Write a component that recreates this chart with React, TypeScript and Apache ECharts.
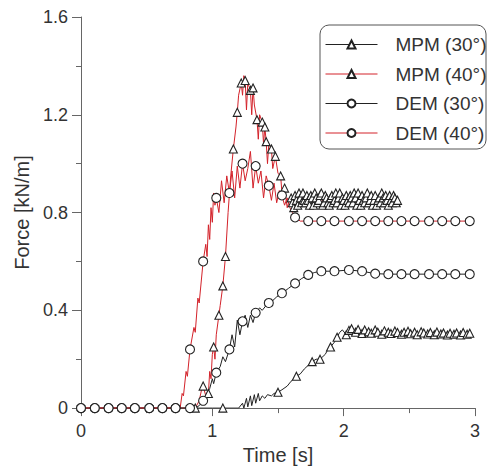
import React, { useEffect, useRef } from "react";
import * as echarts from "echarts";

// ---------- data (time [s], force [kN/m]) ----------
const legendNames = ["MPM (30°)", "MPM (40°)", "DEM (30°)", "DEM (40°)"];

// MPM (30°): line points (no marker) and marker points
const mpm30Line: [number, number][] = [
  [0, 0], [0.5, 0], [1.0, 0], [1.2, 0], [1.23, 0.02], [1.24, 0], [1.26, 0.04], [1.27, 0.005],
  [1.29, 0.05], [1.30, 0.01], [1.32, 0.055], [1.33, 0.02], [1.35, 0.06], [1.36, 0.03], [1.38, 0.05],
  [1.40, 0.04], [1.42, 0.055], [1.45, 0.05], [1.47, 0.06], [1.53, 0.075], [1.57, 0.09], [1.60, 0.11],
  [1.67, 0.14], [1.70, 0.16], [1.73, 0.175], [1.79, 0.2], [1.86, 0.22], [1.88, 0.24], [1.93, 0.27],
  [1.97, 0.31], [1.99, 0.32],
];
const mpm30Marks: [number, number][] = [
  [1.08, 0], [1.5, 0.065], [1.64, 0.13], [1.76, 0.19], [1.82, 0.2], [1.9, 0.25], [1.95, 0.29], [2.02, 0.3],
  [2.04, 0.318], [2.06, 0.325], [2.09, 0.31], [2.11, 0.322], [2.14, 0.305], [2.16, 0.32], [2.19, 0.312],
  [2.21, 0.306], [2.24, 0.32], [2.26, 0.31], [2.29, 0.302], [2.31, 0.316], [2.34, 0.31], [2.36, 0.305],
  [2.39, 0.315], [2.41, 0.309], [2.44, 0.302], [2.46, 0.31], [2.49, 0.314], [2.51, 0.304], [2.54, 0.31],
  [2.56, 0.3], [2.59, 0.312], [2.61, 0.307], [2.64, 0.303], [2.66, 0.309], [2.69, 0.3], [2.71, 0.311],
  [2.74, 0.303], [2.76, 0.307], [2.79, 0.299], [2.81, 0.306], [2.84, 0.302], [2.86, 0.307], [2.89, 0.299],
  [2.91, 0.309], [2.94, 0.302], [2.96, 0.306],
];

// MPM (40°)
const mpm40Line: [number, number][] = [
  [0, 0], [0.5, 0], [0.86, 0], [0.9, 0.03], [0.92, 0.08], [0.95, 0.05], [0.98, 0.15], [0.99, 0.12],
  [1.0, 0.22], [1.02, 0.2], [1.03, 0.3], [1.06, 0.42], [1.12, 0.8], [1.14, 0.95], [1.18, 1.15],
  [1.2, 1.28], [1.23, 1.28], [1.24, 1.36], [1.26, 1.22], [1.27, 1.33], [1.3, 1.2], [1.32, 1.24],
  [1.35, 1.1], [1.36, 1.2], [1.39, 1.08], [1.42, 1.0], [1.43, 1.08], [1.46, 0.98], [1.5, 0.96],
  [1.53, 0.88], [1.57, 0.82], [1.59, 0.86],
];
const mpm40Marks: [number, number][] = [
  [0.87, 0], [0.93, 0.09], [0.97, 0.06], [1.01, 0.25], [1.05, 0.38], [1.08, 0.5], [1.1, 0.62],
  [1.16, 1.06], [1.19, 1.21], [1.22, 1.33], [1.25, 1.34], [1.29, 1.3], [1.31, 1.31], [1.34, 1.18],
  [1.38, 1.17], [1.4, 1.15], [1.41, 1.09], [1.45, 1.06], [1.48, 1.03], [1.52, 0.95], [1.55, 0.9],
  [1.6, 0.86], [1.61, 0.84], [1.62, 0.82], [1.63, 0.87], [1.64, 0.85], [1.65, 0.83], [1.66, 0.88],
  [1.67, 0.86], [1.68, 0.84], [1.69, 0.88], [1.7, 0.85], [1.71, 0.84], [1.72, 0.87], [1.73, 0.85],
  [1.74, 0.83], [1.75, 0.87], [1.76, 0.86], [1.77, 0.83], [1.78, 0.88], [1.79, 0.86], [1.8, 0.84],
  [1.81, 0.85], [1.82, 0.87], [1.83, 0.88], [1.84, 0.83], [1.85, 0.84], [1.86, 0.87], [1.87, 0.86],
  [1.88, 0.84], [1.89, 0.83], [1.9, 0.86], [1.91, 0.87], [1.92, 0.84], [1.93, 0.85], [1.94, 0.88],
  [1.95, 0.84], [1.96, 0.86], [1.97, 0.88], [1.98, 0.83], [1.99, 0.86], [2.0, 0.85], [2.01, 0.83],
  [2.02, 0.87], [2.03, 0.85], [2.04, 0.84], [2.05, 0.87], [2.06, 0.86], [2.07, 0.84], [2.08, 0.88],
  [2.09, 0.86], [2.1, 0.83], [2.11, 0.88], [2.12, 0.85], [2.13, 0.83], [2.14, 0.87], [2.15, 0.85],
  [2.16, 0.84], [2.17, 0.86], [2.18, 0.88], [2.19, 0.84], [2.2, 0.85], [2.21, 0.87], [2.22, 0.83],
  [2.23, 0.85], [2.24, 0.87], [2.25, 0.83], [2.26, 0.85], [2.27, 0.86], [2.28, 0.84], [2.29, 0.88],
  [2.3, 0.86], [2.31, 0.84], [2.32, 0.87], [2.33, 0.85], [2.34, 0.83], [2.35, 0.87], [2.36, 0.85],
  [2.37, 0.84], [2.38, 0.87], [2.39, 0.86], [2.4, 0.84], [2.41, 0.85],
];

// DEM (30°)
const dem30Line: [number, number][] = [
  [0.87, 0], [0.9, 0.01], [0.96, 0.06], [0.98, 0.08], [1.0, 0.12], [1.01, 0.1], [1.06, 0.17],
  [1.08, 0.21], [1.1, 0.19], [1.15, 0.3], [1.17, 0.25], [1.19, 0.36], [1.21, 0.3], [1.25, 0.38],
  [1.27, 0.33], [1.29, 0.38], [1.31, 0.35], [1.36, 0.41], [1.38, 0.4], [1.41, 0.42], [1.46, 0.44],
  [1.49, 0.455], [1.58, 0.49], [1.68, 0.53], [1.78, 0.555],
];
const dem30Marks: [number, number][] = [
  [0, 0], [0.105, 0], [0.21, 0], [0.31, 0], [0.41, 0], [0.52, 0], [0.62, 0], [0.72, 0], [0.83, 0],
  [0.93, 0.03], [1.03, 0.145], [1.13, 0.24], [1.23, 0.355], [1.33, 0.39], [1.43, 0.43], [1.53, 0.47],
  [1.63, 0.51], [1.73, 0.545], [1.83, 0.56], [1.93, 0.56], [2.04, 0.565], [2.14, 0.56], [2.24, 0.55],
  [2.34, 0.548], [2.44, 0.548], [2.54, 0.548], [2.65, 0.548], [2.75, 0.548], [2.85, 0.548], [2.96, 0.548],
];

// DEM (40°)
const dem40Line: [number, number][] = [
  [0.755, 0], [0.77, 0.06], [0.78, 0.05], [0.8, 0.15], [0.81, 0.13], [0.86, 0.33], [0.87, 0.31],
  [0.89, 0.45], [0.9, 0.43], [0.95, 0.67], [0.96, 0.62], [0.97, 0.75], [0.98, 0.69], [0.99, 0.82],
  [1.0, 0.76], [1.01, 0.88], [1.02, 0.83], [1.05, 0.8], [1.07, 0.93], [1.09, 0.84], [1.11, 0.95],
  [1.15, 0.97], [1.17, 0.86], [1.19, 0.99], [1.21, 0.9], [1.25, 0.93], [1.27, 0.98], [1.29, 1.05],
  [1.31, 0.9], [1.35, 0.92], [1.37, 0.97], [1.39, 0.86], [1.41, 0.95], [1.45, 0.85], [1.47, 0.92],
  [1.49, 0.84], [1.51, 0.89], [1.55, 0.83], [1.57, 0.86], [1.59, 0.82], [1.61, 0.8], [1.67, 0.765],
];
const dem40Marks: [number, number][] = [
  [0, 0], [0.105, 0], [0.21, 0], [0.31, 0], [0.41, 0], [0.52, 0], [0.62, 0], [0.72, 0], [0.83, 0.24],
  [0.93, 0.6], [1.03, 0.86], [1.13, 0.88], [1.23, 1.0], [1.33, 0.99], [1.43, 0.91], [1.53, 0.87],
  [1.63, 0.78], [1.73, 0.765], [1.83, 0.765], [1.93, 0.765], [2.04, 0.765], [2.14, 0.765], [2.24, 0.765],
  [2.34, 0.765], [2.44, 0.765], [2.54, 0.765], [2.65, 0.765], [2.75, 0.765], [2.85, 0.765], [2.96, 0.765],
];

const FONT = "Liberation Sans";
const BLACK = "#222";
const RED = "#d3222a";

function buildData(line: [number, number][], marks: [number, number][]) {
  const pts: any[] = [
    ...line.map((p) => ({ value: p, symbol: "none" })),
    ...marks.map((p) => ({ value: p })),
  ];
  pts.sort((a, b) => a.value[0] - b.value[0]);
  return pts;
}

function makeSeries(name: string, line: [number, number][], marks: [number, number][], color: string, symbol: string, size: number) {
  return {
    name,
    type: "line",
    data: buildData(line, marks),
    symbol,
    symbolSize: size,
    showAllSymbol: true,
    lineStyle: { color, width: 1 },
    itemStyle: { color: "#fff", borderColor: BLACK, borderWidth: 1.1 },
    emphasis: { disabled: true },
  };
}

export default function App() {
  const ref = useRef<HTMLDivElement>(null);
  useEffect(() => {
    if (!ref.current) return;
    const chart = echarts.init(ref.current, null, { renderer: "svg" });
    chart.setOption({
      animation: false,
      backgroundColor: "#fff",
      grid: { left: 81, top: 17, right: 14, bottom: 61, containLabel: false },
      xAxis: {
        type: "value",
        min: 0,
        max: 3,
        interval: 1,
        name: "Time [s]",
        nameLocation: "middle",
        nameGap: 36,
        nameTextStyle: { fontFamily: FONT, fontSize: 20, color: "#333" },
        axisLine: { show: true, onZero: false, lineStyle: { color: "#666", width: 1 } },
        axisTick: { show: true, length: 8, lineStyle: { color: "#666" } },
        minorTick: { show: true, splitNumber: 2, length: 5, lineStyle: { color: "#666" } },
        splitLine: { show: false },
        axisLabel: { fontFamily: FONT, fontSize: 18, color: "#333", margin: 14 },
      },
      yAxis: {
        type: "value",
        min: 0,
        max: 1.6,
        interval: 0.4,
        name: "Force [kN/m]",
        nameLocation: "middle",
        nameGap: 49,
        nameTextStyle: { fontFamily: FONT, fontSize: 20, color: "#333" },
        axisLine: { show: true, onZero: false, lineStyle: { color: "#666", width: 1 } },
        axisTick: { show: true, length: 9, lineStyle: { color: "#666" } },
        minorTick: { show: true, splitNumber: 2, length: 5, lineStyle: { color: "#666" } },
        splitLine: { show: false },
        axisLabel: { fontFamily: FONT, fontSize: 18, color: "#333", margin: 13 },
      },
      legend: {
        orient: "vertical",
        left: 325,
        top: 35,
        padding: 0,
        itemWidth: 52,
        itemHeight: 10,
        itemGap: 10.5,
        data: legendNames,
        lineStyle: { width: 1 },
        textStyle: { fontFamily: FONT, fontSize: 19, color: "#333", padding: [0, 0, 0, 13] },
      },
      graphic: [
        {
          type: "rect",
          shape: { x: 320, y: 25, width: 166, height: 124, r: 9 },
          style: { fill: "none", stroke: "#555", lineWidth: 1 },
          silent: true,
        },
      ],
      series: [
        makeSeries(legendNames[0], mpm30Line, mpm30Marks, BLACK, "triangle", 8),
        makeSeries(legendNames[1], mpm40Line, mpm40Marks, RED, "triangle", 8),
        makeSeries(legendNames[2], dem30Line, dem30Marks, BLACK, "circle", 9),
        makeSeries(legendNames[3], dem40Line, dem40Marks, RED, "circle", 9),
      ],
    });
    return () => chart.dispose();
  }, []);
  return (
    <div
      ref={ref}
      style={{ position: "fixed", left: 0, top: 0, width: 489, height: 470 }}
    />
  );
}
